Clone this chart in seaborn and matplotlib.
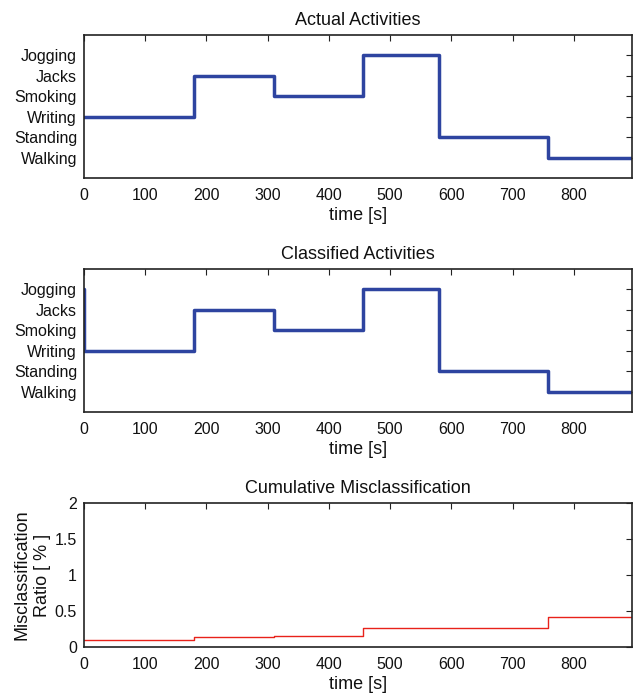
import matplotlib
matplotlib.use("Agg")
import matplotlib.pyplot as plt
import seaborn as sns
import pandas as pd

# ---- data ----
activities = ["Walking", "Standing", "Writing", "Smoking", "Jacks", "Jogging"]

actual_t = [0, 180, 310, 455, 579, 758, 895]
actual_act = ["Writing", "Jacks", "Smoking", "Jogging", "Standing", "Walking", "Walking"]

classified_t = [0, 0, 180, 310, 455, 579, 758, 895]
classified_act = ["Jogging", "Writing", "Jacks", "Smoking", "Jogging", "Standing", "Walking", "Walking"]

mis_t = [0, 180, 310, 455, 758, 895]
mis_ratio = [0.093, 0.135, 0.153, 0.27, 0.42, 0.42]

x_ticks = [0, 100, 200, 300, 400, 500, 600, 700, 800]
mis_ticks = [0, 0.5, 1, 1.5, 2]

# ---- style ----
sns.set_style("white")
plt.rcParams["font.family"] = ["Liberation Sans", "DejaVu Sans"]
plt.rcParams["font.size"] = 11.5
plt.rcParams["xtick.direction"] = "in"
plt.rcParams["ytick.direction"] = "in"
plt.rcParams["xtick.top"] = True
plt.rcParams["ytick.right"] = True
for k in ["text.color", "axes.labelcolor", "xtick.color", "ytick.color"]:
    plt.rcParams[k] = "#111111"

code = {a: i + 1 for i, a in enumerate(activities)}

W, H = 638, 699
fig = plt.figure(figsize=(W / 100, H / 100), dpi=100)

def add_axes(top, bottom, left=84, right=632):
    return fig.add_axes([left / W, 1 - bottom / H, (right - left) / W, (bottom - top) / H])

ax1 = add_axes(35, 178)
ax2 = add_axes(269, 412)
ax3 = add_axes(503, 647)

blue = "#2E44A0"
red = "#E8221A"

df1 = pd.DataFrame({"t": actual_t, "v": [code[a] for a in actual_act]})
df2 = pd.DataFrame({"t": classified_t, "v": [code[a] for a in classified_act]})
df3 = pd.DataFrame({"t": mis_t, "v": mis_ratio})

for ax, df, title in [(ax1, df1, "Actual Activities"), (ax2, df2, "Classified Activities")]:
    sns.lineplot(data=df, x="t", y="v", ax=ax, estimator=None, sort=False,
                 drawstyle="steps-post", color=blue, lw=2.5)
    ax.set_ylim(0, 7)
    ax.set_yticks(range(1, 7))
    ax.set_yticklabels(activities)
    ax.set_title(title, fontsize=13, pad=7)

sns.lineplot(data=df3, x="t", y="v", ax=ax3, estimator=None, sort=False,
             drawstyle="steps-post", color=red, lw=1.0)
ax3.set_ylim(0, 2)
ax3.set_yticks(mis_ticks)
ax3.set_yticklabels(["0", "0.5", "1", "1.5", "2"])
ax3.set_title("Cumulative Misclassification", fontsize=13, pad=7)
ax3.set_ylabel("Misclassification\nRatio [ % ]", fontsize=13, labelpad=3, linespacing=1.25)

for ax in (ax1, ax2, ax3):
    ax.set_xlim(0, 895)
    ax.set_xticks(x_ticks)
    ax.set_xlabel("time [s]", fontsize=13, labelpad=3)
    if ax is not ax3:
        ax.set_ylabel("")
    ax.tick_params(length=4, width=0.8, color="#222222", labelsize=11.5)
    ax.tick_params(axis="x", pad=7)
    ax.tick_params(axis="y", pad=5)
    for s in ax.spines.values():
        s.set_visible(True)
        s.set_color("#222222")
        s.set_linewidth(1.2)

fig.savefig("out.png", dpi=100, facecolor="white")
